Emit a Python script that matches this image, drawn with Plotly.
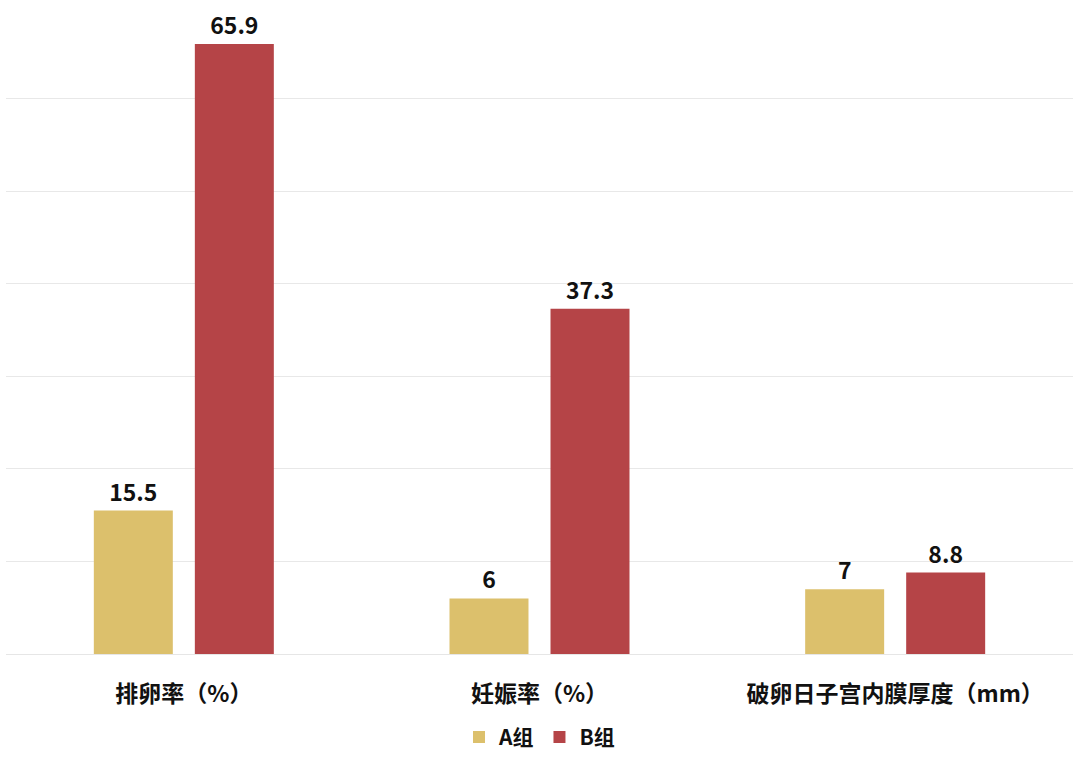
import plotly.graph_objects as go

categories = ["排卵率（%）", "妊娠率（%）", "破卵日子宫内膜厚度（mm）"]
group_a = [15.5, 6, 7]
group_b = [65.9, 37.3, 8.8]
series_names = ["A组", "B组"]
colors = ["#DCC06C", "#B54447"]

font_family = "Noto Sans CJK SC, Noto Sans, sans-serif"

fig = go.Figure()
for name, vals, col in zip(series_names, [group_a, group_b], colors):
    fig.add_trace(go.Bar(
        x=categories, y=vals, name=name,
        marker=dict(color=col, line=dict(width=0)),
        text=[f"{v:g}" for v in vals],
        textposition="outside",
        textfont=dict(family=font_family, size=23, color="#111111", weight="bold"),
        cliponaxis=False,
    ))

fig.update_layout(
    width=1080, height=760,
    margin=dict(l=6, r=7, t=6, b=106, autoexpand=False),
    paper_bgcolor="white", plot_bgcolor="white",
    barmode="group", bargap=0.432, bargroupgap=0.218,
    font=dict(family=font_family, color="#111111"),
    showlegend=True,
    legend=dict(orientation="h", x=0.5, xanchor="center", y=-0.097, yanchor="top",
                font=dict(size=21, family=font_family, color="#111111", weight="bold"),
                itemwidth=30, traceorder="normal"),
    xaxis=dict(showgrid=False, showline=True, linecolor="#e6e6e6", linewidth=1,
               ticks="", ticklabelstandoff=19, automargin=False,
               tickfont=dict(size=23, family=font_family, color="#111111", weight="bold")),
    yaxis=dict(range=[0, 70], dtick=10, showgrid=True, gridcolor="#e8e8e8", gridwidth=1,
               showticklabels=False, zeroline=False, ticks="", automargin=False),
)
fig.write_html("out.html", config={"displayModeBar": False},
               post_script="document.body.style.margin='0';")
